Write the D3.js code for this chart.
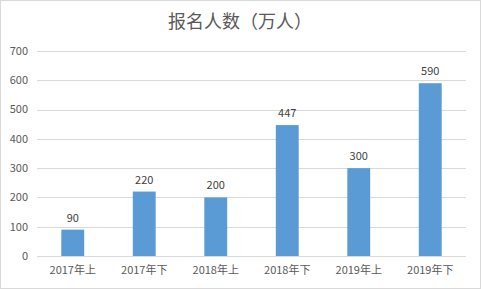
<!DOCTYPE html>
<html>
<head>
<meta charset="utf-8">
<script src="https://cdn.jsdelivr.net/npm/d3@7"></script>
<style>
  body { margin: 0; background: #fff; }
  svg { display: block; font-family: "Microsoft YaHei", "Noto Sans CJK SC", sans-serif; }
</style>
</head>
<body>
<div id="chart"></div>
<script>
const categories = ['2017年上', '2017年下', '2018年上', '2018年下', '2019年上', '2019年下'];
const values = [90, 220, 200, 447, 300, 590];
const yTicks = [0, 100, 200, 300, 400, 500, 600, 700];

const width = 481, height = 289;
const margin = { top: 51, right: 15, bottom: 33, left: 37 };

const svg = d3.select('#chart').append('svg')
  .attr('width', width)
  .attr('height', height);

// outer frame
svg.append('rect')
  .attr('x', 0.5).attr('y', 0.5)
  .attr('width', width - 1).attr('height', height - 1)
  .attr('fill', '#fff')
  .attr('stroke', '#d9d9d9');

const x = d3.scaleBand()
  .domain(categories)
  .range([margin.left, width - margin.right])
  .paddingInner(0.68)
  .paddingOuter(0.34);

const y = d3.scaleLinear()
  .domain([0, 700])
  .range([height - margin.bottom, margin.top]);

// gridlines
svg.append('g')
  .selectAll('line')
  .data(yTicks)
  .join('line')
    .attr('x1', margin.left)
    .attr('x2', width - margin.right)
    .attr('y1', d => Math.round(y(d)) + 0.5)
    .attr('y2', d => Math.round(y(d)) + 0.5)
    .attr('stroke', '#d9d9d9');

// y labels
svg.append('g')
  .selectAll('text')
  .data(yTicks)
  .join('text')
    .attr('x', 28)
    .attr('y', d => y(d))
    .attr('dy', '0.35em')
    .attr('text-anchor', 'end')
    .attr('font-size', 11)
    .attr('fill', '#595959')
    .text(d => d);

// bars
svg.append('g')
  .selectAll('rect')
  .data(values)
  .join('rect')
    .attr('x', (d, i) => x(categories[i]))
    .attr('y', d => y(d))
    .attr('width', x.bandwidth())
    .attr('height', d => y(0) - y(d))
    .attr('fill', '#5b9bd5');

// value labels
svg.append('g')
  .selectAll('text')
  .data(values)
  .join('text')
    .attr('x', (d, i) => x(categories[i]) + x.bandwidth() / 2)
    .attr('y', d => y(d) - 8)
    .attr('text-anchor', 'middle')
    .attr('font-size', 11)
    .attr('fill', '#404040')
    .text(d => d);

// x labels
svg.append('g')
  .selectAll('text')
  .data(categories)
  .join('text')
    .attr('x', d => x(d) + x.bandwidth() / 2)
    .attr('y', height - margin.bottom + 18)
    .attr('text-anchor', 'middle')
    .attr('font-size', 11)
    .attr('fill', '#595959')
    .text(d => d);

// title
svg.append('text')
  .attr('x', 240)
  .attr('y', 28)
  .attr('text-anchor', 'middle')
  .attr('font-size', 18)
  .attr('fill', '#595959')
  .text('报名人数（万人）');
</script>
</body>
</html>
